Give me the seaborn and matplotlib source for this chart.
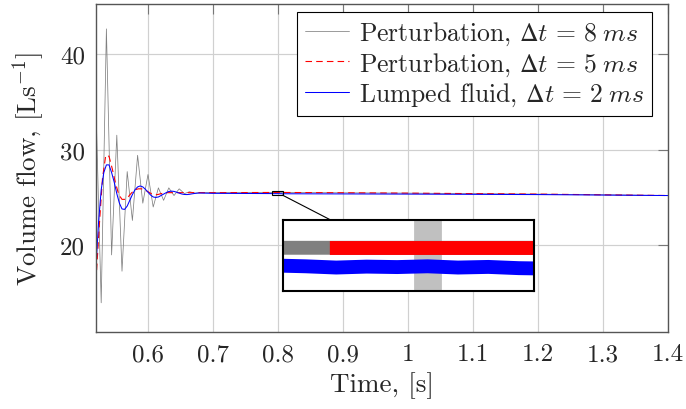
import numpy as np
import pandas as pd
import matplotlib
matplotlib.use("Agg")
import matplotlib.pyplot as plt
import seaborn as sns
from matplotlib.patches import Rectangle, ConnectionPatch

# ---------------- data ----------------
t_gray = [0.520, 0.528, 0.536, 0.544, 0.552, 0.560, 0.568, 0.576, 0.584, 0.592,
          0.600, 0.608, 0.616, 0.624, 0.632, 0.640, 0.648, 0.656, 0.664, 0.672,
          0.680, 0.784, 0.792, 0.800, 0.808, 1.000, 1.200, 1.400]
q_gray = [34.3, 14.0, 42.6, 19.0, 31.5, 17.3, 27.7, 22.6, 29.4, 24.4,
          27.4, 24.0, 26.0, 24.7, 26.0, 25.2, 25.9, 25.4, 25.6, 25.45,
          25.5, 25.52, 25.52, 25.52, 25.52, 25.45, 25.35, 25.2]

t_red = [0.520, 0.525, 0.530, 0.535, 0.540, 0.545, 0.550, 0.555, 0.560, 0.565,
         0.570, 0.575, 0.580, 0.585, 0.590, 0.595, 0.600, 0.605, 0.610, 0.615,
         0.620, 0.625, 0.630, 0.640, 0.700, 0.790, 0.795, 0.800, 0.805, 0.810,
         1.000, 1.200, 1.400]
q_red = [16.3, 22.0, 27.0, 29.4, 29.3, 28.0, 26.5, 25.3, 24.8, 24.8,
         25.1, 25.5, 25.8, 25.9, 25.9, 25.8, 25.6, 25.4, 25.3, 25.3,
         25.4, 25.45, 25.5, 25.5, 25.5, 25.52, 25.52, 25.52, 25.52, 25.52,
         25.45, 25.35, 25.2]

t_blue = [0.520, 0.524, 0.528, 0.532, 0.536, 0.540, 0.544, 0.548, 0.552, 0.556,
          0.560, 0.564, 0.568, 0.572, 0.576, 0.580, 0.584, 0.588, 0.592, 0.596,
          0.600, 0.604, 0.608, 0.612, 0.616, 0.620, 0.624, 0.628, 0.632, 0.636,
          0.640, 0.644, 0.648, 0.652, 0.656, 0.660, 0.664, 0.668, 0.672, 0.676,
          0.680, 0.700, 0.790, 0.792, 0.794, 0.796, 0.798, 0.800, 0.802, 0.804,
          0.806, 0.808, 1.000, 1.200, 1.400]
q_blue = [17.8, 22.5, 25.8, 27.6, 28.4, 28.4, 27.6, 26.6, 25.4, 24.4,
          23.8, 23.75, 24.1, 24.7, 25.3, 25.8, 26.1, 26.2, 26.1, 25.85,
          25.55, 25.25, 25.05, 25.0, 25.05, 25.2, 25.35, 25.5, 25.62, 25.66,
          25.63, 25.55, 25.45, 25.36, 25.31, 25.3, 25.33, 25.38, 25.42, 25.45,
          25.46, 25.43, 25.405, 25.40, 25.392, 25.398, 25.395, 25.40, 25.392, 25.396,
          25.388, 25.385, 25.35, 25.3, 25.2]

labels = [r"Perturbation, $Δt\,=\,8\;ms$",
          r"Perturbation, $Δt\,=\,5\;ms$",
          r"Lumped fluid, $Δt\,=\,2\;ms$"]
x_ticks = [0.6, 0.7, 0.8, 0.9, 1.0, 1.1, 1.2, 1.3, 1.4]
x_ticklabels = ["0.6", "0.7", "0.8", "0.9", "1", "1.1", "1.2", "1.3", "1.4"]
y_ticks = [20, 30, 40]
y_ticklabels = ["20", "30", "40"]
zoom_x = (0.7905, 0.807)
zoom_y = (25.24, 25.70)

df_gray = pd.DataFrame({"t": t_gray, "q": q_gray})
df_red = pd.DataFrame({"t": t_red, "q": q_red})
df_blue = pd.DataFrame({"t": t_blue, "q": q_blue})

# ---------------- style ----------------
sns.set_style("white")
plt.rcParams["font.family"] = ["cmr10", "DejaVu Serif"]
plt.rcParams["mathtext.fontset"] = "cm"
plt.rcParams["axes.unicode_minus"] = False
plt.rcParams["lines.scale_dashes"] = False
plt.rcParams["axes.formatter.use_mathtext"] = True

FS = 18
FSL = 19.5
fig = plt.figure(figsize=(6.86, 4.10), dpi=100)
L, R, T, B = 96 / 686, 668 / 686, 1 - 5 / 410, 1 - 333 / 410
ax = fig.add_axes([L, B, R - L, T - B])

c_gray, c_red, c_blue = "#808080", "#ff0000", "#0000ff"

sns.lineplot(data=df_gray, x="t", y="q", ax=ax, color=c_gray, lw=0.55,
             estimator=None, sort=False, label=labels[0])
sns.lineplot(data=df_red, x="t", y="q", ax=ax, color=c_red, lw=0.8,
             estimator=None, sort=False, label=labels[1], linestyle=(0, (4.7, 3.0)))
sns.lineplot(data=df_blue, x="t", y="q", ax=ax, color=c_blue, lw=0.75,
             estimator=None, sort=False, label=labels[2])

ax.set_xlim(0.52, 1.4)
ax.set_ylim(10.95, 45.2)
ax.set_xticks(x_ticks)
ax.set_xticklabels(x_ticklabels)
ax.set_yticks(y_ticks)
ax.set_yticklabels(y_ticklabels)
ax.grid(True, color="#d0d0d0", lw=0.85)
ax.set_axisbelow(True)
ax.tick_params(direction="in", length=7, width=0.8, color="#777777",
               top=True, right=True, labelsize=FS)
ax.tick_params(axis="x", pad=8)
ax.tick_params(axis="y", pad=8)
for s in ax.spines.values():
    s.set_color("#555555")
    s.set_linewidth(1.0)

ax.set_xlabel("Time, [s]", fontsize=FSL, labelpad=4)
ax.set_ylabel(r"Volume flow, [Ls$^{-1}$]", fontsize=FSL, labelpad=9)

leg = ax.legend(loc="upper right", bbox_to_anchor=((652 - 96) / 572, (333 - 13) / 328),
                fontsize=18.5, frameon=True, fancybox=False, framealpha=1,
                edgecolor="black", borderaxespad=0, handlelength=1.7,
                handletextpad=0.4, labelspacing=0.12, borderpad=0.3)
leg.get_frame().set_linewidth(0.8)

# zoom rectangle on main axes
ax.add_patch(Rectangle((zoom_x[0], zoom_y[0]), zoom_x[1] - zoom_x[0], zoom_y[1] - zoom_y[0],
                       fill=False, edgecolor="black", lw=0.8, zorder=5))

# ---------------- inset ----------------
axin = fig.add_axes([283 / 686, 1 - 292 / 410, 251 / 686, 71 / 410])
sns.lineplot(data=df_gray, x="t", y="q", ax=axin, color=c_gray, lw=10,
             estimator=None, sort=False, legend=False)
red_in = df_red[(df_red.t >= 0.7895) & (df_red.t <= 0.82)]
sns.lineplot(data=red_in, x="t", y="q", ax=axin, color=c_red, lw=10,
             estimator=None, sort=False, legend=False,
             linestyle=(250, (250, 39.5)), solid_capstyle="butt", dash_capstyle="butt")
sns.lineplot(data=df_blue, x="t", y="q", ax=axin, color=c_blue, lw=10,
             estimator=None, sort=False, legend=False)
axin.set_xlim(*zoom_x)
axin.set_ylim(*zoom_y)
axin.set_xticks([0.8])
axin.set_yticks([])
axin.grid(True, axis="x", color="#c0c0c0", lw=20)
axin.set_axisbelow(True)
axin.tick_params(length=0, labelbottom=False, labelleft=False)
axin.set_xlabel("")
axin.set_ylabel("")
for s in axin.spines.values():
    s.set_color("black")
    s.set_linewidth(1.5)

con = ConnectionPatch(xyA=(zoom_x[1], zoom_y[0]), coordsA=ax.transData,
                      xyB=(0.19, 1.0), coordsB=axin.transAxes,
                      color="black", lw=0.8, zorder=6)
fig.add_artist(con)

fig.savefig("out.png", dpi=100)
